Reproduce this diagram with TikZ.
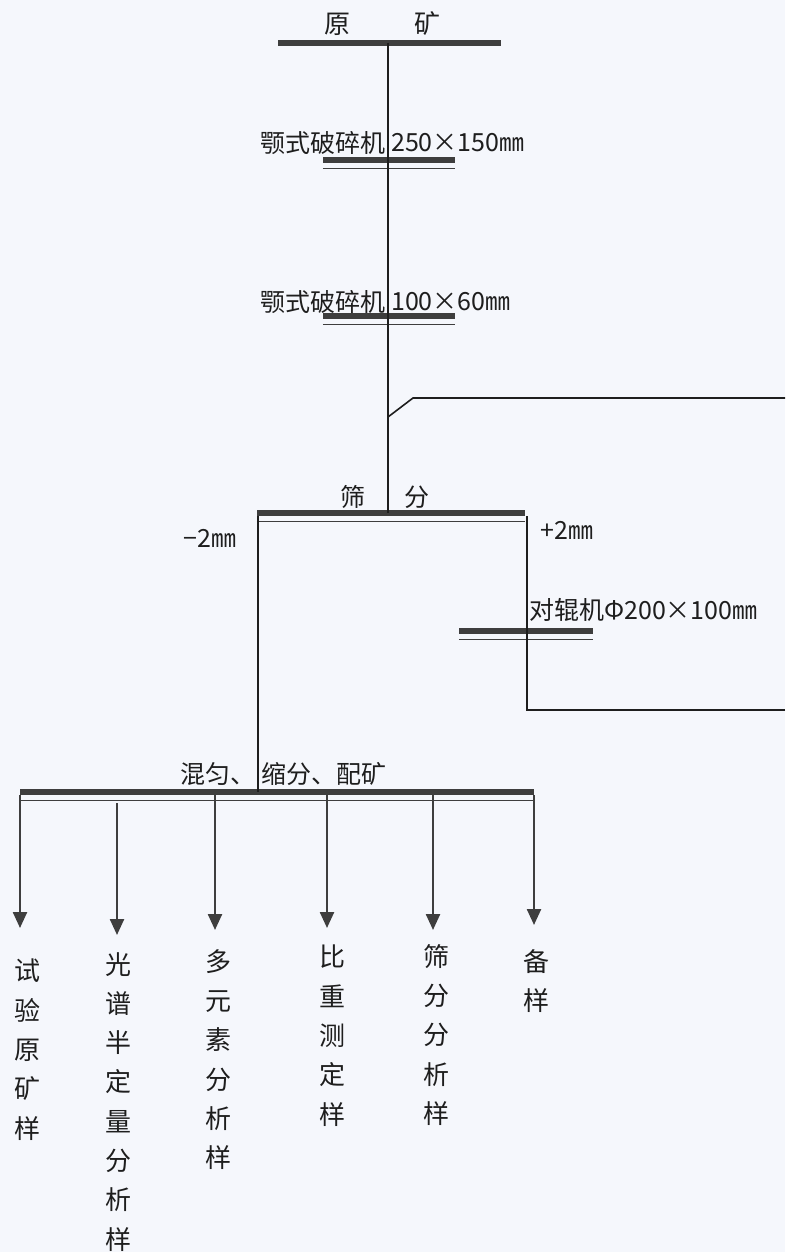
\documentclass[tikz,border=0pt]{standalone}
\usepackage{fontspec}
\setmainfont{Noto Sans CJK SC}
\usetikzlibrary{arrows.meta}
\definecolor{bgc}{HTML}{F5F7FC}
\definecolor{barc}{HTML}{3E3E3E}
\definecolor{inkc}{HTML}{1E1E1E}
\tikzset{
  barbox/.style={rectangle, fill=barc, inner sep=0pt, minimum height=6pt},
  thinl/.style={draw=barc, line width=1.3pt},
  ln/.style={draw=inkc, line width=1.6pt},
  arr/.style={draw=barc, line width=2.4pt, -{Triangle[width=14pt,length=16pt]}},
  lbl/.style={inner sep=0pt, text=inkc, font=\fontsize{25}{25}\selectfont},
  col/.style={inner sep=0pt, text=inkc, align=center, anchor=north, font=\fontsize{26}{39.3}\selectfont}
}
\newcommand{\myunderline}[1]{\draw[thinl] ([yshift=-5pt]#1.south west) -- ([yshift=-5pt]#1.south east);}
\begin{document}
\begin{tikzpicture}[x=1pt,y=-1pt]
\fill[bgc] (0,0) rectangle (785,1252);
\useasboundingbox (0,0) rectangle (785,1252);

% bars
\node[barbox, minimum width=223pt] (ore) at (389.5,43) {};
\node[barbox, minimum width=132pt] (jaw1) at (389,160) {};
\node[barbox, minimum width=132pt] (jaw2) at (389,316) {};
\node[barbox, minimum width=268pt] (screen) at (391,513) {};
\node[barbox, minimum width=134pt] (roll) at (526,631) {};
\node[barbox, minimum width=514pt] (mix) at (277,792) {};
\myunderline{jaw1}
\myunderline{jaw2}
\myunderline{screen}
\myunderline{roll}
\myunderline{mix}

% coordinates
\coordinate (m) at (388,0);
\coordinate (j) at (388,417);
\coordinate (k) at (413,398);
\coordinate (r1) at (785,398);
\coordinate (r2) at (785,710);
\coordinate (c) at (527,710);
\coordinate (sl) at (258,0);
\coordinate (sr) at (527,0);

% labels
\node[lbl, font=\fontsize{26}{26}\selectfont] (t1) at (337,24) {原};
\node[lbl, font=\fontsize{26}{26}\selectfont] (t2) at (427,24) {矿};
\node[lbl, anchor=east] (j1a) at (386,143) {颚式破碎机};
\node[lbl, anchor=west] (j1b) at (391,143) {250×150㎜};
\node[lbl, anchor=east] (j2a) at (386,302) {颚式破碎机};
\node[lbl, anchor=west] (j2b) at (391,302) {100×60㎜};
\node[lbl] (s1) at (353,497) {筛};
\node[lbl] (s2) at (417,497) {分};
\node[lbl] (minus) at (210,538) {−2㎜};
\node[lbl] (plus) at (567,530) {+2㎜};
\node[lbl, anchor=west] (rl) at (529,610) {对辊机Φ200×100㎜};
\node[lbl, anchor=east] (mxa) at (256,774) {混匀、};
\node[lbl, anchor=west] (mxb) at (261,774) {缩分、配矿};

% connectors
\draw[ln] (ore.center -| m) -- (screen.center -| m);
\draw[ln] (j) -- (k) -- (r1);
\draw[ln] (r2) -- (c) -- (screen.south -| sr);
\draw[ln] (screen.south -| sl) -- (mix.center -| sl);

% outputs
\coordinate (a1) at (20,928);
\coordinate (a2) at (117,935);
\coordinate (a3) at (215,930);
\coordinate (a4) at (327,928);
\coordinate (a5) at (433,930);
\coordinate (a6) at (534,925);
\draw[arr] (mix.south -| a1) -- (a1);
\draw[arr] ([yshift=-8pt]mix.south -| a2) -- (a2);
\draw[arr] (mix.south -| a3) -- (a3);
\draw[arr] (mix.south -| a4) -- (a4);
\draw[arr] (mix.south -| a5) -- (a5);
\draw[arr] (mix.south -| a6) -- (a6);

\node[col] (o1) at (27,959) {试\\验\\原\\矿\\样};
\node[col] (o2) at (118,952) {光\\谱\\半\\定\\量\\分\\析\\样};
\node[col] (o3) at (218,949) {多\\元\\素\\分\\析\\样};
\node[col] (o4) at (332,945) {比\\重\\测\\定\\样};
\node[col] (o5) at (436,944) {筛\\分\\分\\析\\样};
\node[col] (o6) at (536,949) {备\\样};
\end{tikzpicture}
\end{document}
